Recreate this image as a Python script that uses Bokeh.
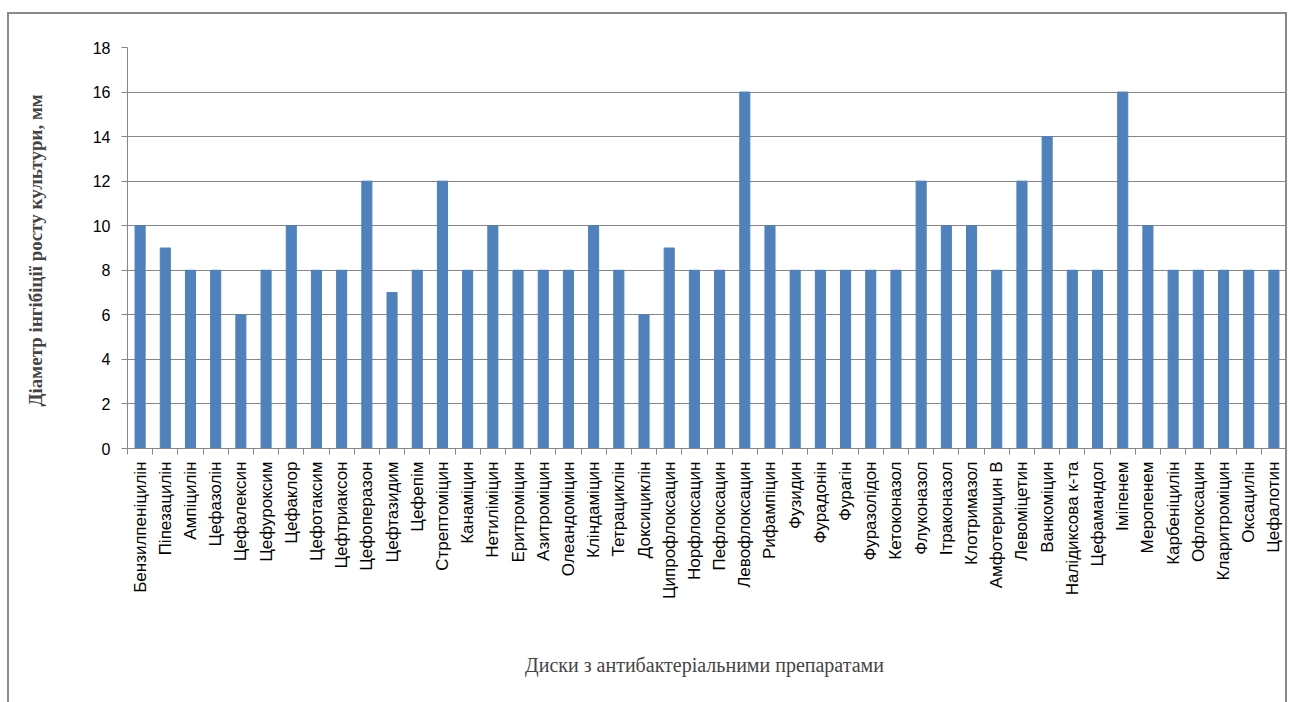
import math
from bokeh.plotting import figure
from bokeh.models import FixedTicker, Range1d
from bokeh.embed import file_html
from bokeh.resources import INLINE

categories = ["Бензилпеніцилін", "Піпезацилін", "Ампіцилін", "Цефазолін", "Цефалексин",
              "Цефуроксим", "Цефаклор", "Цефотаксим", "Цефтриаксон", "Цефоперазон",
              "Цефтазидим", "Цефепім", "Стрептоміцин", "Канаміцин", "Нетиліміцин",
              "Еритроміцин", "Азитроміцин", "Олеандоміцин", "Кліндаміцин", "Тетрациклін",
              "Доксициклін", "Ципрофлоксацин", "Норфлоксацин", "Пефлоксацин", "Левофлоксацин",
              "Рифампіцин", "Фузидин", "Фурадонін", "Фурагін", "Фуразолідон",
              "Кетоконазол", "Флуконазол", "Ітраконазол", "Клотримазол", "Амфотерицин В",
              "Левоміцетин", "Ванкоміцин", "Налідиксова к-та", "Цефамандол", "Іміпенем",
              "Меропенем", "Карбеніцилін", "Офлоксацин", "Кларитроміцин", "Оксацилін",
              "Цефалотин"]
values = [10, 9, 8, 8, 6, 8, 10, 8, 8, 12, 7, 8, 12, 8, 10, 8, 8, 8, 10, 8, 6, 9, 8, 8, 16,
          10, 8, 8, 8, 8, 8, 12, 10, 10, 8, 12, 14, 8, 8, 16, 10, 8, 8, 8, 8, 8]
y_ticks = [0, 2, 4, 6, 8, 10, 12, 14, 16, 18]
y_title = "Діаметр інгібіції  росту культури, мм"
x_title = "Диски з антибактеріальними  препаратами"

n = len(categories)
xs = list(range(n))

p = figure(width=1280, height=690, output_backend="svg", toolbar_location=None,
           x_range=Range1d(-0.5, n - 0.5), y_range=Range1d(0, 18),
           min_border_left=118, min_border_right=3, min_border_top=33, min_border_bottom=256)
p.styles = {"margin-left": "7px", "margin-top": "12px",
            "border-left": "2px solid #8a8a8a", "border-top": "2px solid #8a8a8a",
            "border-right": "2px solid #8a8a8a"}
p.outline_line_color = None

p.vbar(x=xs, top=values, width=0.4, color="#4f81bd")

# x axis
p.xaxis.ticker = FixedTicker(ticks=xs, minor_ticks=[i - 0.5 for i in range(n + 1)])
p.xaxis.major_label_overrides = {i: c for i, c in enumerate(categories)}
p.xaxis.major_label_orientation = math.pi / 2
p.xaxis.major_tick_out = 0
p.xaxis.major_tick_in = 0
p.xaxis.minor_tick_out = 6
p.xaxis.minor_tick_in = 0
p.xaxis.minor_tick_line_color = "#868686"
p.xaxis.axis_line_color = "#868686"
p.xaxis.major_label_text_font = "Liberation Sans"
p.xaxis.major_label_text_font_size = "17px"
p.xaxis.major_label_text_color = "#000000"
p.xaxis.major_label_standoff = 7
p.xaxis.axis_label = x_title
p.xaxis.axis_label_text_font = "Liberation Serif"
p.xaxis.axis_label_text_font_style = "normal"
p.xaxis.axis_label_text_font_size = "20px"
p.xaxis.axis_label_standoff = 52
p.xgrid.grid_line_color = None

# y axis
p.yaxis.ticker = FixedTicker(ticks=y_ticks)
p.yaxis.major_tick_out = 6
p.yaxis.major_tick_in = 0
p.yaxis.minor_tick_line_color = None
p.yaxis.major_tick_line_color = "#868686"
p.yaxis.axis_line_color = "#868686"
p.yaxis.major_label_text_font = "Liberation Sans"
p.yaxis.major_label_text_font_size = "16px"
p.yaxis.major_label_text_color = "#000000"
p.yaxis.major_label_standoff = 11
p.yaxis.axis_label = y_title
p.yaxis.axis_label_text_font = "Liberation Serif"
p.yaxis.axis_label_text_font_style = "bold"
p.yaxis.axis_label_text_font_size = "19px"
p.yaxis.axis_label_standoff = 44
p.ygrid.grid_line_color = "#868686"
p.ygrid.grid_line_width = 1

open("out.html", "w").write(file_html(p, INLINE))
